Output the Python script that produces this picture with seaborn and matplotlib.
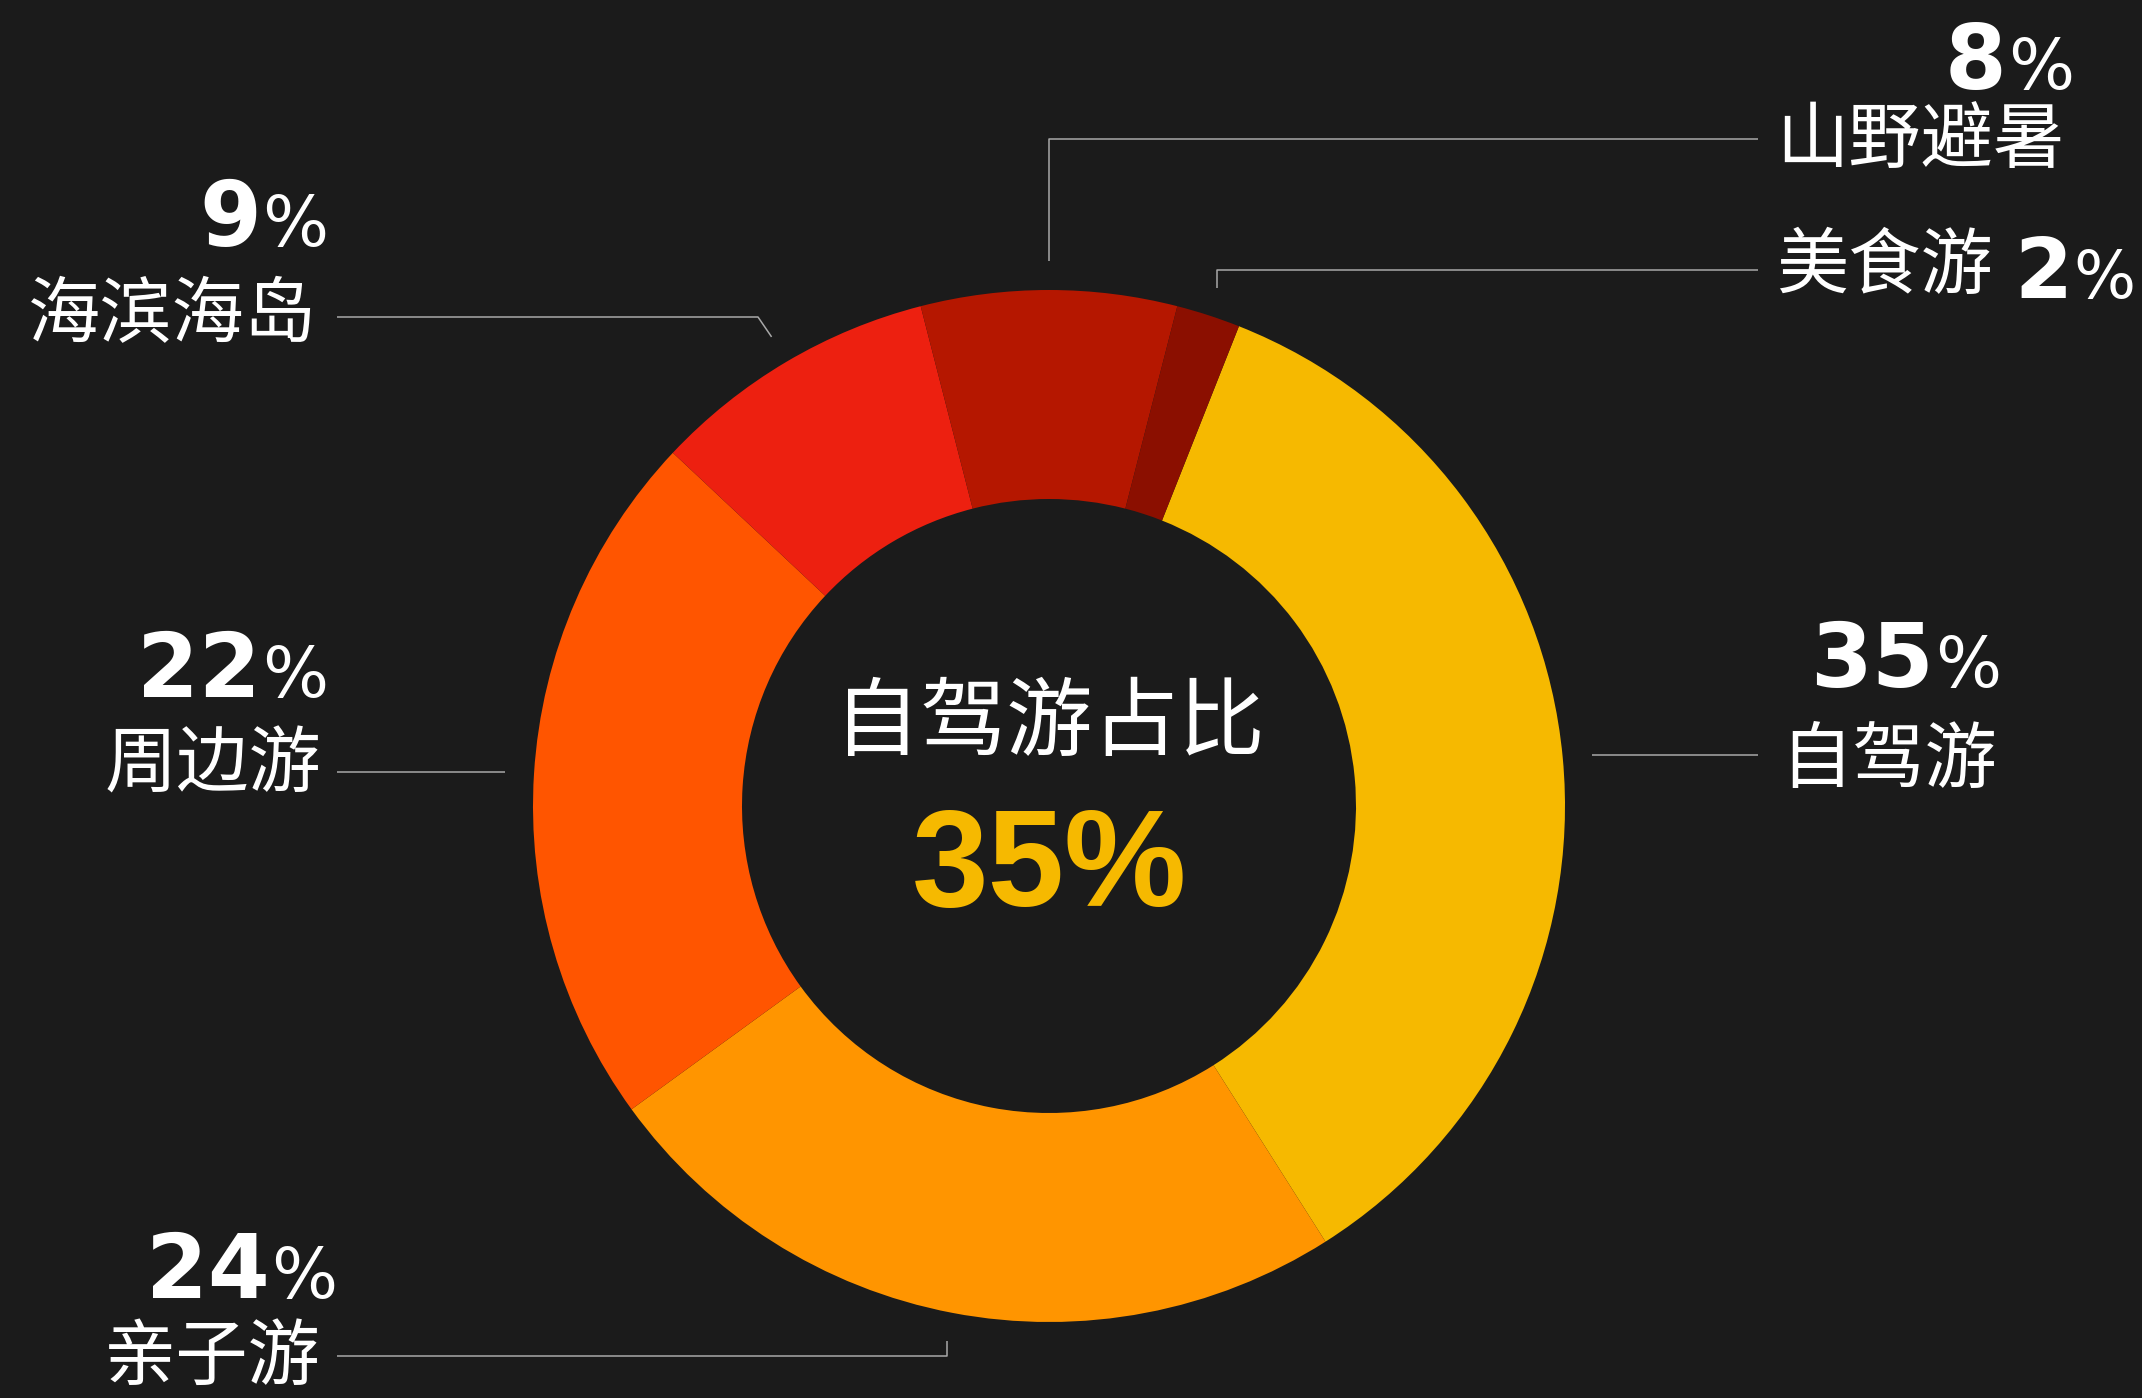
import numpy as np
import pandas as pd
import seaborn as sns
import matplotlib.pyplot as plt

# ---- data ----
categories = ['自驾游', '亲子游', '周边游', '海滨海岛', '山野避暑', '美食游']
values = [35, 24, 22, 9, 8, 2]
colors = ['#f6b900', '#ff9500', '#ff5500', '#ed2010', '#b51700', '#8b0f00']
center_title = '自驾游占比'
center_value = '35%'

df = pd.DataFrame({'category': categories, 'value': values, 'color': colors})

# ---- style ----
BG = '#1b1b1b'
LINE = '#a8a8a8'
sns.set_theme(style='dark')
plt.rcParams['font.family'] = ['Noto Sans CJK SC', 'DejaVu Sans']

W, H = 2142, 1398
fig = plt.figure(figsize=(W / 100, H / 100), dpi=100, facecolor=BG)
ax = fig.add_axes([0, 0, 1, 1])
ax.set_facecolor(BG)

CX, CY = 1049, 806          # pixel coords, y downwards
R_OUT, R_IN = 516, 307
START = 68.4

def Y(y):
    return H - y

ax.pie(df['value'], colors=df['color'], startangle=START, counterclock=False,
       center=(CX, Y(CY)), radius=R_OUT, frame=True,
       wedgeprops=dict(width=R_OUT - R_IN, linewidth=0))

ax.set_xlim(0, W)
ax.set_ylim(0, H)
ax.set_aspect('equal')
ax.axis('off')
fig.canvas.draw()
renderer = fig.canvas.get_renderer()

# anchor points at mid-angles
cum = np.cumsum([0] + values[:-1])
tot = sum(values)
R_A = 545
anchors = {}
for cat, c0, v in zip(categories, cum, values):
    a = np.deg2rad(START - 360 * (c0 + v / 2) / tot)
    anchors[cat] = (CX + R_A * np.cos(a), CY - R_A * np.sin(a))

DIG_FS, PCT_FS = 64, 50

def draw_pct(x, ybase, value, ha='right', dfs=DIG_FS, pfs=PCT_FS, gap=1):
    digits = str(value)
    if ha == 'right':
        p = ax.text(x, Y(ybase), '%', color='white', fontsize=pfs, ha='right',
                    va='baseline', family=['DejaVu Sans'])
        bb = p.get_window_extent(renderer=renderer)
        ax.text(bb.x0 - gap, Y(ybase), digits, color='white', fontsize=dfs,
                fontweight='bold', ha='right', va='baseline', family=['DejaVu Sans'])
    else:
        d = ax.text(x, Y(ybase), digits, color='white', fontsize=dfs, fontweight='bold',
                    ha='left', va='baseline', family=['DejaVu Sans'])
        bb = d.get_window_extent(renderer=renderer)
        ax.text(bb.x1 + gap, Y(ybase), '%', color='white', fontsize=pfs, ha='left',
                va='baseline', family=['DejaVu Sans'])

# layout per category (pixel coords, y downward)
layout = {
    '自驾游':  dict(path='h', end=1758, lab=(1780, 761, 'left'), pct=(2001, 687, 'right')),
    '亲子游':  dict(path='vh', ey=1356, end=337, lab=(321, 1358, 'right'), pct=(337, 1298, 'right')),
    '周边游':  dict(path='h', end=337, lab=(321, 766, 'right'), pct=(328, 697, 'right')),
    '海滨海岛': dict(path='dh', ex=758, ey=317, end=337, lab=(317, 317, 'right'), pct=(328, 246, 'right')),
    '山野避暑': dict(path='vh', ey=139, end=1758, lab=(1776, 141, 'left'), pct=(2074, 89, 'right')),
    '美食游':  dict(path='vh', ey=270, end=1758, lab=(1776, 268, 'left'), pct=None),
}

for cat, val in zip(categories, values):
    ax_, ay_ = anchors[cat]
    L = layout[cat]
    if L['path'] == 'h':
        xs, ys = [ax_, L['end']], [ay_, ay_]
    elif L['path'] == 'vh':
        xs, ys = [ax_, ax_, L['end']], [ay_, L['ey'], L['ey']]
    else:
        xs, ys = [ax_, L['ex'], L['end']], [ay_, L['ey'], L['ey']]
    ax.plot(xs, [Y(v) for v in ys], color=LINE, lw=1.1, solid_capstyle='butt')

    lx, ly, lha = L['lab']
    t = ax.text(lx, Y(ly), cat, color='white', fontsize=52, ha=lha, va='center',
                family=['Noto Sans CJK SC', 'DejaVu Sans'])
    if L['pct'] is None:
        bb = t.get_window_extent(renderer=renderer)
        draw_pct(bb.x1 + 22, 298, val, ha='left', dfs=60, pfs=47)
    else:
        px, py, pha = L['pct']
        draw_pct(px, py, val, ha=pha)

# centre text
ax.text(CX, Y(725), center_title, color='white', fontsize=62, ha='center', va='center',
        family=['Noto Sans CJK SC', 'DejaVu Sans'])
ax.text(CX, Y(871), center_value, color=colors[0], fontsize=99, fontweight='bold',
        ha='center', va='center', family=['Liberation Sans', 'DejaVu Sans'])

fig.savefig('out.png', dpi=100, facecolor=BG)
